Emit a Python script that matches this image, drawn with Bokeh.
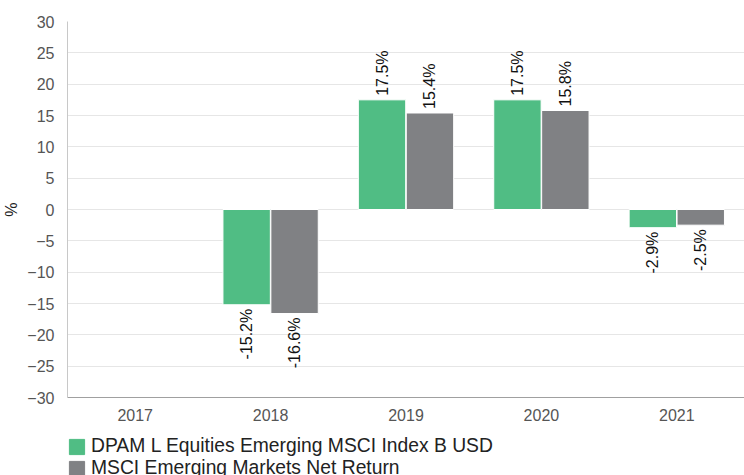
import math
from bokeh.plotting import figure
from bokeh.layouts import column
from bokeh.models import ColumnDataSource, Legend, LegendItem, FixedTicker
from bokeh.transform import dodge
from bokeh.core.properties import value
from bokeh.embed import file_html
from bokeh.resources import INLINE

years = ["2017", "2018", "2019", "2020", "2021"]
fund = [None, -15.2, 17.5, 17.5, -2.9]
bench = [None, -16.6, 15.4, 15.8, -2.5]
fund_name = "DPAM L Equities Emerging MSCI Index B USD"
bench_name = "MSCI Emerging Markets Net Return"
y_ticks = list(range(-30, 31, 5))

GREEN = "#50bd84"
GREY = "#808184"
FONT = "Liberation Sans"

p = figure(x_range=years, y_range=(-30, 30), width=744, height=423,
           output_backend="svg", toolbar_location=None,
           min_border_left=40, min_border_right=0, min_border_top=21,
           min_border_bottom=24)
p.outline_line_color = None
p.xgrid.grid_line_color = None
p.ygrid.grid_line_color = "#e6e6e6"
p.yaxis.ticker = FixedTicker(ticks=y_ticks)

def src(vals):
    xs, ys = [], []
    for y, v in zip(years, vals):
        if v is not None:
            xs.append(y); ys.append(v)
    return ColumnDataSource(dict(x=xs, top=ys))

bw = 0.35
p.vbar(x=dodge("x", -0.177, range=p.x_range), top="top", bottom=0, width=bw,
       source=src(fund), fill_color=GREEN, line_color="white", line_width=1)
p.vbar(x=dodge("x", 0.177, range=p.x_range), top="top", bottom=0, width=bw,
       source=src(bench), fill_color=GREY, line_color="white", line_width=1)

for vals, off in ((fund, -0.177), (bench, 0.177)):
    for sign in (1, -1):
        xs, ys, labs = [], [], []
        for y, v in zip(years, vals):
            if v is not None and (v >= 0) == (sign > 0):
                xs.append(y); ys.append(v); labs.append(f"{v:.1f}%")
        if not xs:
            continue
        cs = ColumnDataSource(dict(x=xs, y=ys, lab=labs))
        p.text(x=dodge("x", off, range=p.x_range), y="y", text="lab", source=cs,
               angle=math.pi / 2, text_align="left" if sign > 0 else "right",
               text_baseline="middle", y_offset=-4 if sign > 0 else 4,
               text_font=value(FONT), text_font_size="16px", text_color="#111111")

for ax in (p.xaxis, p.yaxis):
    ax.major_label_text_font = FONT
    ax.major_label_text_font_size = "16px"
    ax.major_label_text_color = "#555555"
    ax.major_tick_line_color = None
    ax.minor_tick_line_color = None
p.yaxis.axis_line_color = "#c8c8c8"
p.xaxis.axis_line_color = "#a0a0a0"
p.yaxis.axis_label = "%"
p.yaxis.axis_label_text_font = FONT
p.yaxis.axis_label_text_font_style = "normal"
p.yaxis.axis_label_text_font_size = "16px"
p.yaxis.axis_label_text_color = "#222222"
p.yaxis.axis_label_standoff = 4
p.xaxis.major_label_standoff = 5
p.yaxis.major_label_standoff = 7

# legend strip (proxy bars lie outside its visible range)
lg = figure(x_range=years, y_range=(0, 1), width=744, height=60,
            output_backend="svg", toolbar_location=None,
            x_axis_location=None, y_axis_location=None,
            min_border_left=0, min_border_right=0, min_border_top=0,
            min_border_bottom=0)
lg.grid.visible = False
lg.outline_line_color = None
proxy = ColumnDataSource(dict(x=[years[0]], top=[-2], bottom=[-3]))
l1 = lg.vbar(x="x", top="top", bottom="bottom", width=0.3, source=proxy,
             fill_color=GREEN, line_color=GREEN)
l2 = lg.vbar(x="x", top="top", bottom="bottom", width=0.3, source=proxy,
             fill_color=GREY, line_color=GREY)
legend = Legend(items=[LegendItem(label=fund_name, renderers=[l1]),
                       LegendItem(label=bench_name, renderers=[l2])],
                location=(0, 4), orientation="vertical",
                border_line_color=None, background_fill_alpha=0,
                label_text_font=FONT, label_text_font_size="19.3px",
                label_text_color="#222222", glyph_width=19, glyph_height=19,
                label_height=22, spacing=0, padding=0, margin=0,
                label_standoff=5)
lg.add_layout(legend, "center")

open("out.html", "w").write(file_html(column(p, lg), INLINE))
